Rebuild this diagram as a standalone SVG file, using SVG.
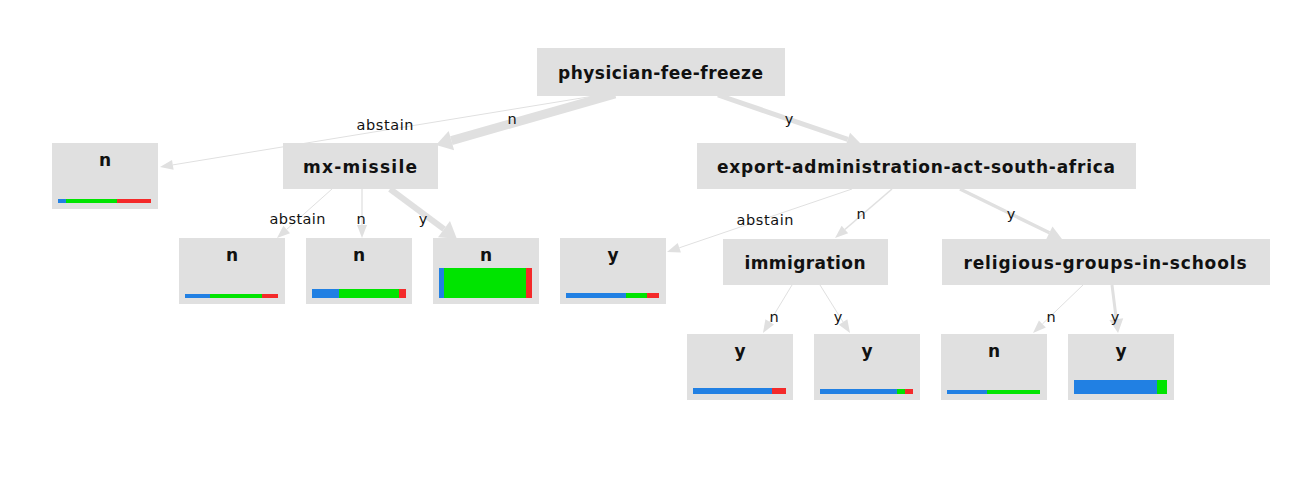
<svg xmlns="http://www.w3.org/2000/svg" width="1300" height="480" viewBox="0 0 1300 480">
<style>
.box{fill:#e0e0e0}
.nt{font-family:"DejaVu Sans",sans-serif;font-weight:bold;font-size:17px;fill:#111;text-anchor:middle}
.el{font-family:"DejaVu Sans",sans-serif;font-size:14.5px;fill:#111;text-anchor:middle}
.e{stroke:#e0e0e0;fill:none}
.b{fill:#2180e3}.g{fill:#00e400}.r{fill:#f42a2a}
</style>
<defs>
<marker id="as" markerUnits="userSpaceOnUse" markerWidth="13" markerHeight="10" refX="0" refY="5" orient="auto" overflow="visible"><path d="M0,0L13,5L0,10Z" fill="#e0e0e0"/></marker>
<marker id="am" markerUnits="userSpaceOnUse" markerWidth="14" markerHeight="14" refX="0" refY="7" orient="auto" overflow="visible"><path d="M0,0L14,7L0,14Z" fill="#e0e0e0"/></marker>
<marker id="al" markerUnits="userSpaceOnUse" markerWidth="16" markerHeight="20" refX="0" refY="10" orient="auto" overflow="visible"><path d="M0,0L16,10L0,20Z" fill="#e0e0e0"/></marker>
</defs>
<rect width="1300" height="480" fill="#fff"/>
<g id="edges">
<line class="e" x1="600" y1="95" x2="172.8" y2="164.9" stroke-width="1" marker-end="url(#as)"/>
<line class="e" x1="615" y1="94" x2="451.4" y2="140.6" stroke-width="9" marker-end="url(#al)"/>
<line class="e" x1="718" y1="95" x2="847.8" y2="139.4" stroke-width="5" marker-end="url(#am)"/>
<line class="e" x1="332" y1="189" x2="286.7" y2="229.4" stroke-width="1" marker-end="url(#as)"/>
<line class="e" x1="362" y1="189" x2="362" y2="225" stroke-width="1.3" marker-end="url(#as)"/>
<line class="e" x1="390" y1="189" x2="444" y2="229.1" stroke-width="6" marker-end="url(#al)"/>
<line class="e" x1="852" y1="189" x2="679.3" y2="247.8" stroke-width="1" marker-end="url(#as)"/>
<line class="e" x1="892" y1="189" x2="844.9" y2="229.5" stroke-width="1.6" marker-end="url(#as)"/>
<line class="e" x1="960" y1="189" x2="1049.4" y2="232.8" stroke-width="3.5" marker-end="url(#am)"/>
<line class="e" x1="792" y1="285" x2="769.7" y2="321.9" stroke-width="1" marker-end="url(#as)"/>
<line class="e" x1="820" y1="285" x2="843.1" y2="322" stroke-width="1" marker-end="url(#as)"/>
<line class="e" x1="1083" y1="285" x2="1042.4" y2="324" stroke-width="1" marker-end="url(#as)"/>
<line class="e" x1="1112" y1="285" x2="1116.3" y2="319.1" stroke-width="3" marker-end="url(#am)"/>
<text class="el" x="385" y="130" textLength="57" lengthAdjust="spacing">abstain</text>
<text class="el" x="512" y="124">n</text>
<text class="el" x="789" y="124">y</text>
<text class="el" x="297.5" y="224" textLength="56" lengthAdjust="spacing">abstain</text>
<text class="el" x="361" y="224">n</text>
<text class="el" x="423" y="224">y</text>
<text class="el" x="765" y="225" textLength="57" lengthAdjust="spacing">abstain</text>
<text class="el" x="861" y="219">n</text>
<text class="el" x="1011" y="219">y</text>
<text class="el" x="774" y="322">n</text>
<text class="el" x="838" y="322">y</text>
<text class="el" x="1051" y="322">n</text>
<text class="el" x="1115" y="322">y</text>
</g>
<g id="physician-fee-freeze">
<rect class="box" x="537" y="48" width="248" height="48"/>
<text class="nt" x="660.5" y="79" textLength="205" lengthAdjust="spacing">physician-fee-freeze</text>
</g>
<g id="leaf-pff-abstain">
<rect class="box" x="52" y="143" width="106" height="66"/>
<text class="nt" x="105" y="166">n</text>
<rect class="b" x="58" y="199" width="8" height="4"/><rect class="g" x="66" y="199" width="51" height="4"/><rect class="r" x="117" y="199" width="34" height="4"/>
</g>
<g id="mx-missile">
<rect class="box" x="283" y="143" width="155" height="46"/>
<text class="nt" x="360" y="173" textLength="114" lengthAdjust="spacing">mx-missile</text>
</g>
<g id="export-administration-act-south-africa">
<rect class="box" x="697" y="143" width="439" height="46"/>
<text class="nt" x="916" y="173" textLength="398" lengthAdjust="spacing">export-administration-act-south-africa</text>
</g>
<g id="leaf-mx-abstain">
<rect class="box" x="179" y="238" width="106" height="66"/>
<text class="nt" x="232" y="261">n</text>
<rect class="b" x="185" y="294" width="25" height="4"/><rect class="g" x="210" y="294" width="52" height="4"/><rect class="r" x="262" y="294" width="16" height="4"/>
</g>
<g id="leaf-mx-n">
<rect class="box" x="306" y="238" width="106" height="66"/>
<text class="nt" x="359" y="261">n</text>
<rect class="b" x="312" y="289" width="27" height="9"/><rect class="g" x="339" y="289" width="60" height="9"/><rect class="r" x="399" y="289" width="7" height="9"/>
</g>
<g id="leaf-mx-y">
<rect class="box" x="433" y="238" width="106" height="66"/>
<text class="nt" x="486" y="261">n</text>
<rect class="b" x="439" y="268" width="5" height="30"/><rect class="g" x="444" y="268" width="82" height="30"/><rect class="r" x="526" y="268" width="6" height="30"/>
</g>
<g id="leaf-export-abstain">
<rect class="box" x="560" y="238" width="106" height="66"/>
<text class="nt" x="613" y="261">y</text>
<rect class="b" x="566" y="293" width="60" height="5"/><rect class="g" x="626" y="293" width="21" height="5"/><rect class="r" x="647" y="293" width="12" height="5"/>
</g>
<g id="immigration">
<rect class="box" x="723" y="239" width="165" height="46"/>
<text class="nt" x="805" y="269" textLength="121" lengthAdjust="spacing">immigration</text>
</g>
<g id="religious-groups-in-schools">
<rect class="box" x="942" y="239" width="328" height="46"/>
<text class="nt" x="1105" y="269" textLength="283" lengthAdjust="spacing">religious-groups-in-schools</text>
</g>
<g id="leaf-imm-n">
<rect class="box" x="687" y="334" width="106" height="66"/>
<text class="nt" x="740" y="357">y</text>
<rect class="b" x="693" y="388" width="79" height="6"/><rect class="r" x="772" y="388" width="14" height="6"/>
</g>
<g id="leaf-imm-y">
<rect class="box" x="814" y="334" width="106" height="66"/>
<text class="nt" x="867" y="357">y</text>
<rect class="b" x="820" y="389" width="77" height="5"/><rect class="g" x="897" y="389" width="8" height="5"/><rect class="r" x="905" y="389" width="8" height="5"/>
</g>
<g id="leaf-rel-n">
<rect class="box" x="941" y="334" width="106" height="66"/>
<text class="nt" x="994" y="357">n</text>
<rect class="b" x="947" y="390" width="40" height="4"/><rect class="g" x="987" y="390" width="53" height="4"/>
</g>
<g id="leaf-rel-y">
<rect class="box" x="1068" y="334" width="106" height="66"/>
<text class="nt" x="1121" y="357">y</text>
<rect class="b" x="1074" y="380" width="83" height="14"/><rect class="g" x="1157" y="380" width="10" height="14"/>
</g>
</svg>
